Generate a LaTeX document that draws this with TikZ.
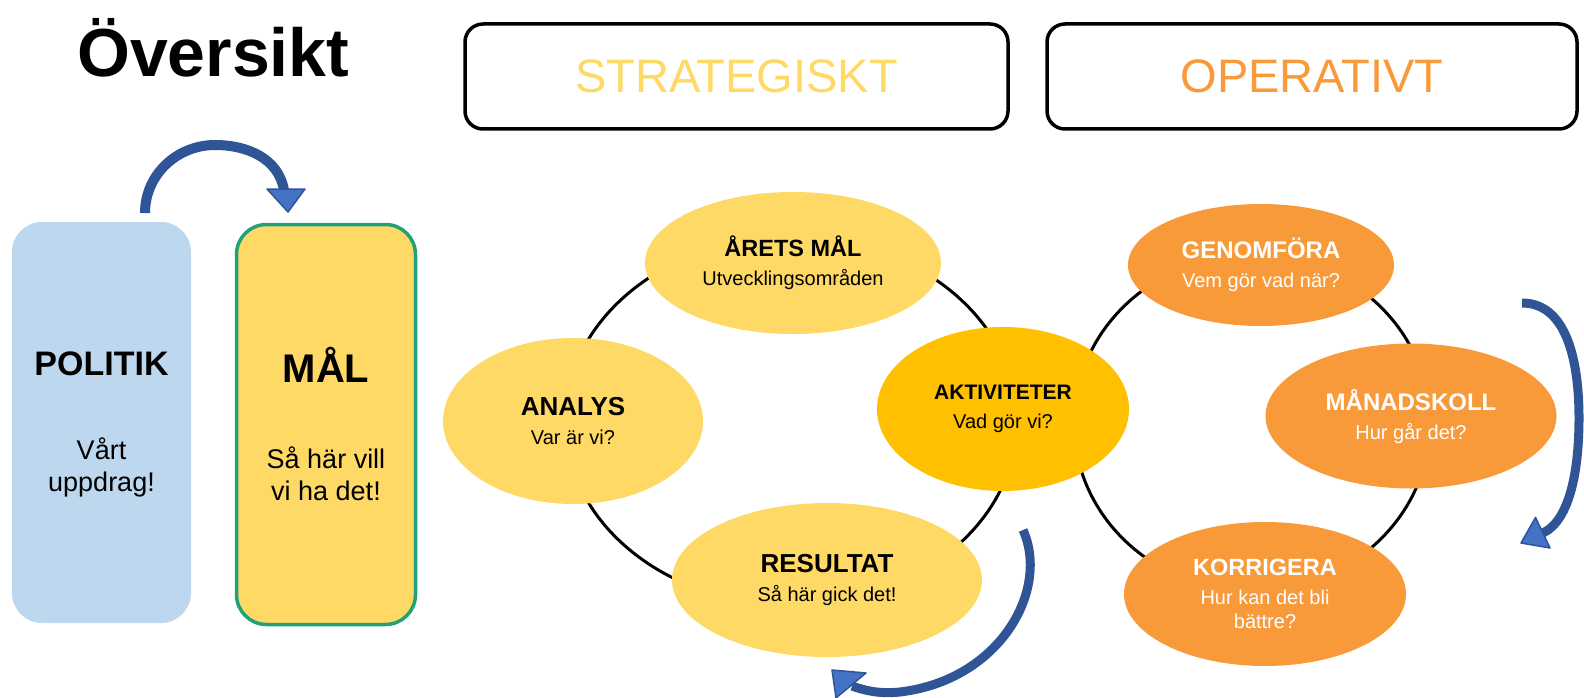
\documentclass[tikz,border=0pt]{standalone}
\usepackage{fontspec}
\setmainfont{Liberation Sans}
\usetikzlibrary{shapes.geometric}
\definecolor{ylw}{HTML}{FFD966}
\definecolor{gold}{HTML}{FFC000}
\definecolor{orng}{HTML}{F99A3A}
\definecolor{lblue}{HTML}{BDD7EE}
\definecolor{grn}{HTML}{21A179}
\definecolor{dblue}{HTML}{2F5597}
\definecolor{mblue}{HTML}{4472C4}
\newcommand\ovhead[2]{{\fontsize{#1}{29}\selectfont\bfseries #2}}
\begin{document}
\begin{tikzpicture}[x=1pt,y=-1pt,
  oval/.style={ellipse, inner sep=0pt, align=center, font=\fontsize{20}{29}\selectfont},
  ovalw/.style={oval, fill=orng, text=white},
  cyc/.style={ellipse, draw=black, line width=3pt, inner sep=0pt},
  hdrbox/.style={draw=black, line width=3.5pt, rounded corners=18pt, inner sep=0pt, font=\fontsize{47}{56}\selectfont},
  sidebox/.style={rounded corners=30pt, inner sep=0pt},
  barrow/.style={draw=dblue, line width=10pt},
  bhead/.style={fill=mblue, draw=dblue, line width=1.5pt, line join=round},
]
\useasboundingbox (0,0) rectangle (1584,698);

% title
\node[anchor=base west, inner sep=0pt, font=\bfseries\fontsize{68}{80}\selectfont] (title) at (77,77) {Översikt};

% header boxes
\node[hdrbox, minimum width=543pt, minimum height=105pt, text=ylw] (strat) at (736.5,76.5) {STRATEGISKT};
\node[hdrbox, minimum width=530pt, minimum height=105pt, text=orng] (oper) at (1312,76.5) {OPERATIVT};

% side boxes
\node[sidebox, fill=lblue, minimum width=179pt, minimum height=401pt] (politik) at (101.5,422.5) {};
\node[sidebox, fill=ylw, draw=grn, line width=3.5pt, minimum width=179pt, minimum height=400pt] (mal) at (326,424.5) {};
\node[font=\bfseries\fontsize{34}{40}\selectfont] (politikT) at (101.5,364) {POLITIK};
\node[align=center, font=\fontsize{27}{32}\selectfont] (politikS) at (101.5,467) {Vårt\\uppdrag!};
\node[font=\bfseries\fontsize{40}{48}\selectfont] (malT) at (326,365) {MÅL};
\node[align=center, font=\fontsize{27}{32}\selectfont] (malS) at (326,474) {Så här vill\\vi ha det!};

% cycles
\node[cyc, minimum width=452pt, minimum height=368pt] (cycS) at (791,421) {};
\node[cyc, minimum width=356pt, minimum height=336pt] (cycO) at (1252,423) {};

% strategic ellipses
\node[oval, fill=ylw, minimum width=296pt, minimum height=142pt] (arets) at (793,263) {\ovhead{23.5}{ÅRETS MÅL}\\Utvecklingsområden};
\node[oval, fill=ylw, minimum width=260pt, minimum height=166pt] (analys) at (573,421) {\ovhead{26}{ANALYS}\\Var är vi?};
\node[oval, fill=ylw, minimum width=310pt, minimum height=154pt] (result) at (827,580) {\ovhead{26}{RESULTAT}\\Så här gick det!};
\node[oval, fill=gold, minimum width=252pt, minimum height=164pt] (aktiv) at (1003,409) {\ovhead{21}{AKTIVITETER}\\Vad gör vi?};

% operative ellipses
\node[ovalw, minimum width=266pt, minimum height=122pt] (genom) at (1261,265) {\ovhead{24}{GENOMFÖRA}\\Vem gör vad när?};
\node[ovalw, minimum width=291pt, minimum height=145pt] (manad) at (1411,416) {\ovhead{24}{MÅNADSKOLL}\\Hur går det?};
\node[ovalw, minimum width=282pt, minimum height=144pt] (korr) at (1265,594) {\ovhead{23.5}{KORRIGERA}\\Hur kan det bli\\[-5pt]bättre?};

% arrow politik -> mal
\coordinate (a1s) at (145,213);
\coordinate (a1e) at (284,190);
\draw[barrow] (a1s) to[out=90,in=180] (215,145) to[out=0,in=100] (a1e);
\draw[bhead] (267,189) -- (305,189) -- (288,212) -- cycle;

% right arrow
\coordinate (a2s) at (1522,303);
\coordinate (a2e) at (1543,533);
\draw[barrow, line width=9pt] (a2s) .. controls (1570,303) and (1579,370) .. (1579,418) .. controls (1579,470) and (1570,520) .. (a2e);
\draw[bhead] (1550,548) -- (1521,543) -- (1535.5,517.4) -- cycle;

% bottom arrow
\coordinate (a3s) at (1023,530);
\coordinate (a3e) at (852,686);
\draw[barrow, line width=9pt] (a3s) .. controls (1050,590) and (1000,680) .. (900,692) .. controls (880,694) and (866,691) .. (a3e);
\draw[bhead] (866,673) -- (832,670) -- (836,698) -- cycle;
\end{tikzpicture}
\end{document}
